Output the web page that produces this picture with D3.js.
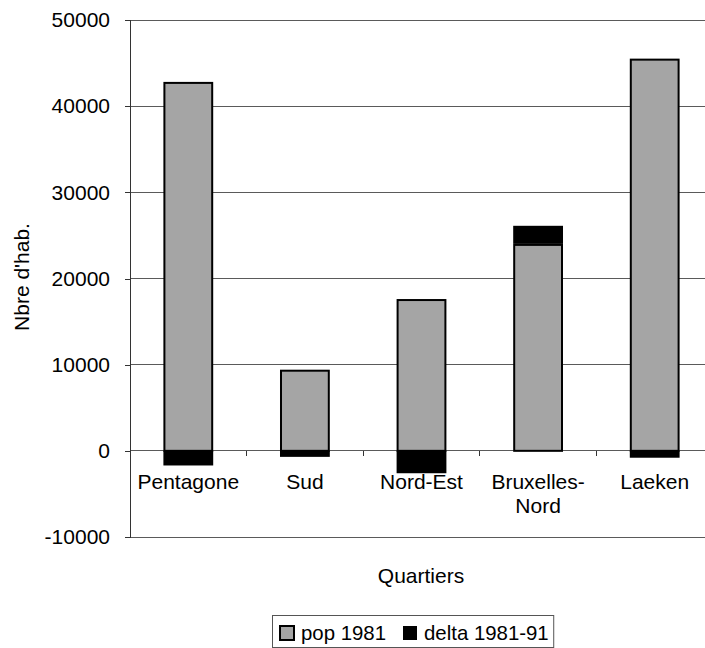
<!DOCTYPE html>
<html>
<head>
<meta charset="utf-8">
<script src="https://cdn.jsdelivr.net/npm/d3@7"></script>
<style>
  html, body { margin: 0; padding: 0; background: #fff; }
  svg { display: block; font-family: "Liberation Sans", Arial, sans-serif; }
</style>
</head>
<body>
<svg id="chart" width="705" height="648"></svg>
<script>
// Population by district: 1981 level and change 1981-91
const quartiers = ["Pentagone", "Sud", "Nord-Est", "Bruxelles-Nord", "Laeken"];
const labelLines = [["Pentagone"], ["Sud"], ["Nord-Est"], ["Bruxelles-", "Nord"], ["Laeken"]];
const pop1981 = [42700, 9300, 17500, 23900, 45400];
const delta8191 = [-1700, -700, -2600, 2100, -800];
const yTicks = [-10000, 0, 10000, 20000, 30000, 40000, 50000];
const seriesNames = ["pop 1981", "delta 1981-91"];
const seriesColors = ["#a5a5a5", "#000000"];

const FONT = 21;
const svg = d3.select("#chart");
const plotLeft = 130, plotRight = 713, plotTop = 20, plotBottom = 537;

const x = d3.scaleBand().domain(quartiers).range([plotLeft, plotRight]).padding(0);
const y = d3.scaleLinear().domain([-10000, 50000]).range([plotBottom, plotTop]);
const barW = x.step() * 0.41;

// horizontal gridlines
svg.append("g").selectAll("line").data(yTicks).join("line")
  .attr("x1", plotLeft).attr("x2", plotRight)
  .attr("y1", d => y(d)).attr("y2", d => y(d))
  .attr("stroke", "#5a5a5a").attr("stroke-width", 1)
  .attr("shape-rendering", "crispEdges");

// y axis
const yAxis = d3.axisLeft(y).tickValues(yTicks).tickSize(5).tickPadding(15).tickFormat(d3.format("d"));
const gy = svg.append("g").attr("transform", `translate(${plotLeft},0)`).call(yAxis);
gy.attr("font-size", null).attr("font-family", null);
gy.select(".domain").attr("stroke", "#333").attr("shape-rendering", "crispEdges");
gy.selectAll(".tick line").attr("stroke", "#333").attr("shape-rendering", "crispEdges");
gy.selectAll("text").attr("font-size", FONT).attr("fill", "#000")
  .text(d => d < 0 ? "-" + Math.abs(d) : String(d));

// category ticks on the zero line
const catBounds = quartiers.slice(1).map(q => x(q));
svg.append("g").selectAll("line").data(catBounds).join("line")
  .attr("x1", d => d).attr("x2", d => d)
  .attr("y1", y(0)).attr("y2", y(0) + 5)
  .attr("stroke", "#333").attr("shape-rendering", "crispEdges");

// pop 1981 bars
const cx = q => x(q) + x.bandwidth() / 2;
svg.append("g").selectAll("rect").data(quartiers).join("rect")
  .attr("x", q => cx(q) - barW / 2)
  .attr("width", barW)
  .attr("y", (q, i) => y(pop1981[i]))
  .attr("height", (q, i) => y(0) - y(pop1981[i]))
  .attr("fill", seriesColors[0])
  .attr("stroke", "#000").attr("stroke-width", 2);

// delta bars: negative below zero, positive stacked on top of 1981 level
svg.append("g").selectAll("rect").data(quartiers).join("rect")
  .attr("x", q => cx(q) - barW / 2 - 1)
  .attr("width", barW + 2)
  .attr("y", (q, i) => delta8191[i] < 0 ? y(0) : y(pop1981[i] + delta8191[i]) - 1)
  .attr("height", (q, i) => delta8191[i] < 0
      ? y(delta8191[i]) - y(0)
      : y(pop1981[i]) - y(pop1981[i] + delta8191[i]))
  .attr("fill", seriesColors[1]);

// category labels
const xl = svg.append("g").selectAll("text").data(quartiers).join("text")
  .attr("x", q => cx(q))
  .attr("y", 489)
  .attr("text-anchor", "middle")
  .attr("font-size", FONT);
xl.each(function(q, i) {
  const t = d3.select(this);
  labelLines[i].forEach((ln, k) => {
    t.append("tspan").attr("x", cx(q)).attr("dy", k === 0 ? 0 : 24).text(ln);
  });
});

// axis titles
svg.append("text").attr("x", 421).attr("y", 583)
  .attr("text-anchor", "middle").attr("font-size", FONT).text("Quartiers");
svg.append("text").attr("transform", "translate(29,277) rotate(-90)")
  .attr("text-anchor", "middle").attr("font-size", FONT).text("Nbre d'hab.");

// legend
const lg = svg.append("g");
const items = lg.selectAll("g").data(seriesNames).join("g");
const legendX = [280, 403];
items.append("rect")
  .attr("x", (d, i) => legendX[i]).attr("y", 626).attr("width", 14).attr("height", 14)
  .attr("fill", (d, i) => seriesColors[i])
  .attr("stroke", "#000").attr("stroke-width", (d, i) => i === 0 ? 2 : 0);
items.append("text")
  .attr("x", (d, i) => legendX[i] + 21).attr("y", 640)
  .attr("font-size", 20.4).text(d => d);
const lastBox = items.filter((d, i) => i === seriesNames.length - 1).select("text").node().getBBox();
lg.insert("rect", ":first-child")
  .attr("x", 272.5).attr("y", 615.5)
  .attr("width", lastBox.x + lastBox.width + 5 - 272.5).attr("height", 32)
  .attr("fill", "#fff").attr("stroke", "#555").attr("stroke-width", 1);
</script>
</body>
</html>
